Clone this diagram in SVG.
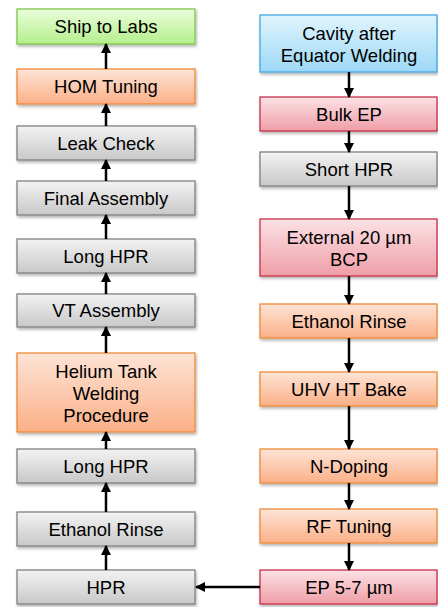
<svg xmlns="http://www.w3.org/2000/svg" width="438" height="607" viewBox="0 0 438 607">
<defs>
<linearGradient id="gGreen" x1="0" y1="0" x2="0" y2="1"><stop offset="0" stop-color="#ebfddc"/><stop offset="1" stop-color="#b3ef8b"/></linearGradient>
<linearGradient id="gOrange" x1="0" y1="0" x2="0" y2="1"><stop offset="0" stop-color="#fde4d6"/><stop offset="1" stop-color="#fbb088"/></linearGradient>
<linearGradient id="gGray" x1="0" y1="0" x2="0" y2="1"><stop offset="0" stop-color="#f3f3f3"/><stop offset="1" stop-color="#c8c8c8"/></linearGradient>
<linearGradient id="gBlue" x1="0" y1="0" x2="0" y2="1"><stop offset="0" stop-color="#e0f4fd"/><stop offset="1" stop-color="#9dd8f6"/></linearGradient>
<linearGradient id="gRed" x1="0" y1="0" x2="0" y2="1"><stop offset="0" stop-color="#fbe2e5"/><stop offset="1" stop-color="#ef9ea7"/></linearGradient>
<filter id="sh" x="-10%" y="-20%" width="120%" height="150%"><feDropShadow dx="1" dy="2" stdDeviation="1.5" flood-color="#000" flood-opacity="0.3"/></filter>
<marker id="ah" markerWidth="10" markerHeight="10" viewBox="0 0 10 10" refX="9" refY="5" orient="auto" markerUnits="userSpaceOnUse"><path d="M0,0 L10,5 L0,10 Z" fill="#000"/></marker>
</defs>
<style>
rect{filter:url(#sh);stroke-width:1.3}
.green{fill:url(#gGreen);stroke:#7ec64c}
.orange{fill:url(#gOrange);stroke:#ee8a3a}
.gray{fill:url(#gGray);stroke:#808080}
.blue{fill:url(#gBlue);stroke:#41a9df}
.red{fill:url(#gRed);stroke:#c8304c}
text{font-family:"Liberation Sans",Arial,sans-serif;font-size:18.5px;fill:#000;text-anchor:middle}
#connectors path{fill:none;stroke:#000;stroke-width:2.5;marker-end:url(#ah)}
</style>
<g id="ship"><rect class="green" x="17" y="9" width="178" height="35"/><text x="106" y="33">Ship to Labs</text></g>
<g id="hom"><rect class="orange" x="17" y="69" width="178" height="35"/><text x="106" y="93">HOM Tuning</text></g>
<g id="leak"><rect class="gray" x="17" y="126" width="178" height="34"/><text x="106" y="150">Leak Check</text></g>
<g id="final"><rect class="gray" x="17" y="181" width="178" height="34"/><text x="106" y="205">Final Assembly</text></g>
<g id="longhpr1"><rect class="gray" x="17" y="239" width="178" height="34"/><text x="106" y="263">Long HPR</text></g>
<g id="vt"><rect class="gray" x="17" y="294" width="178" height="33"/><text x="106" y="317">VT Assembly</text></g>
<g id="helium"><rect class="orange" x="17" y="353" width="178" height="79"/><text x="106" y="378">Helium Tank</text><text x="106" y="400">Welding</text><text x="106" y="422">Procedure</text></g>
<g id="longhpr2"><rect class="gray" x="17" y="449" width="178" height="34"/><text x="106" y="473">Long HPR</text></g>
<g id="ethanolL"><rect class="gray" x="17" y="512" width="178" height="34"/><text x="106" y="536">Ethanol Rinse</text></g>
<g id="hpr"><rect class="gray" x="17" y="570" width="178" height="34"/><text x="106" y="594">HPR</text></g>
<g id="cavity"><rect class="blue" x="260" y="15" width="177" height="57"/><text x="349" y="40">Cavity after</text><text x="349" y="62">Equator Welding</text></g>
<g id="bulk"><rect class="red" x="260" y="97" width="177" height="34"/><text x="349" y="121">Bulk EP</text></g>
<g id="short"><rect class="gray" x="260" y="152" width="177" height="34"/><text x="349" y="176">Short HPR</text></g>
<g id="bcp"><rect class="red" x="260" y="219" width="177" height="57"/><text x="349" y="244">External 20 µm</text><text x="349" y="266">BCP</text></g>
<g id="ethanolR"><rect class="orange" x="260" y="304" width="177" height="34"/><text x="349" y="328">Ethanol Rinse</text></g>
<g id="uhv"><rect class="orange" x="260" y="372" width="177" height="34"/><text x="349" y="396">UHV HT Bake</text></g>
<g id="ndop"><rect class="orange" x="260" y="449" width="177" height="34"/><text x="349" y="473">N-Doping</text></g>
<g id="rf"><rect class="orange" x="260" y="509" width="177" height="34"/><text x="349" y="533">RF Tuning</text></g>
<g id="ep"><rect class="red" x="260" y="570" width="177" height="34"/><text x="349" y="594">EP 5-7 µm</text></g>
<g id="connectors">
<path d="M106,69 V44"/>
<path d="M106,126 V104"/>
<path d="M106,181 V160"/>
<path d="M106,239 V215"/>
<path d="M106,294 V273"/>
<path d="M106,353 V327"/>
<path d="M106,449 V432"/>
<path d="M106,512 V483"/>
<path d="M106,570 V546"/>
<path d="M349,72 V97"/>
<path d="M349,131 V152"/>
<path d="M349,186 V219"/>
<path d="M349,276 V304"/>
<path d="M349,338 V372"/>
<path d="M349,406 V449"/>
<path d="M349,483 V509"/>
<path d="M349,543 V570"/>
<path d="M260,587 H196"/>
</g>
</svg>
